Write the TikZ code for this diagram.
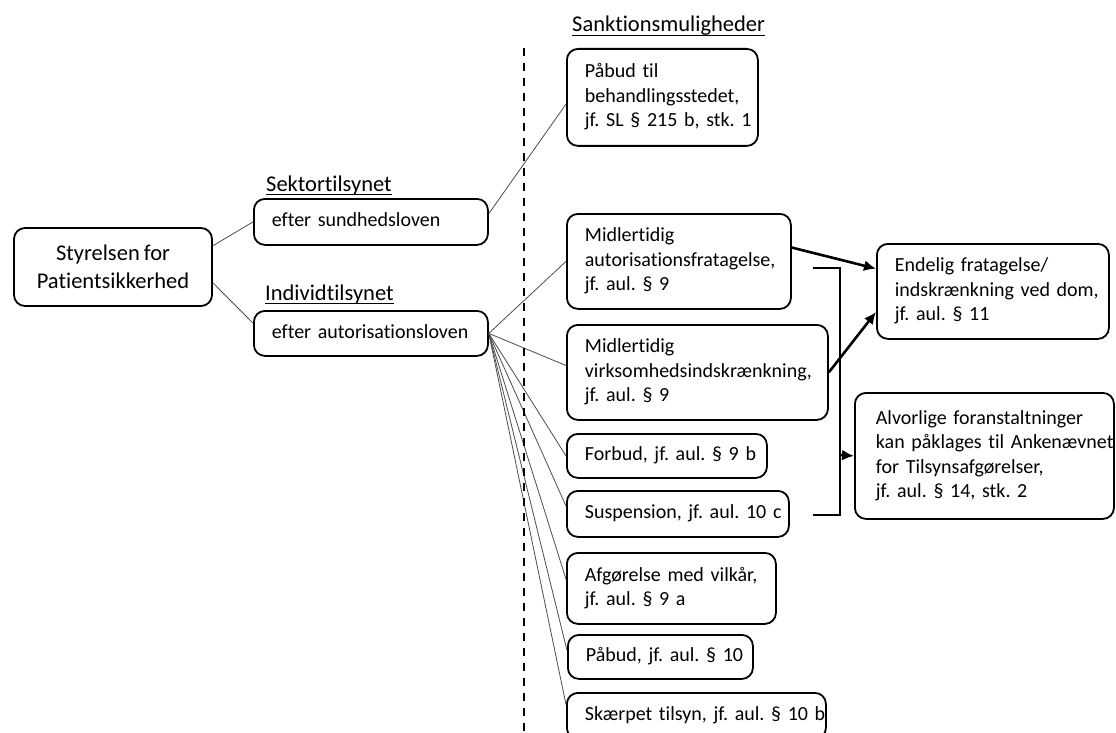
\documentclass[tikz,border=0pt]{standalone}
\usepackage{fontspec}
\setmainfont{Carlito}[Ligatures=NoCommon,WordSpace=0.8]
\usetikzlibrary{arrows.meta}
\newcommand{\lignes}[1]{\begin{tabular}{@{}l@{}}#1\end{tabular}}
\begin{document}
\frenchspacing
\begin{tikzpicture}[x=1pt,y=-1pt]

% définition des styles
\tikzstyle{boite}=[draw,line width=1.8pt,rounded corners=11pt,anchor=north west,inner xsep=18pt,inner ysep=0pt,font=\fontsize{20}{24.5}\selectfont]
\tikzstyle{titre}=[anchor=base west,inner sep=0pt,font=\fontsize{22.5}{27}\selectfont]
\tikzstyle{souligne}=[line width=1.4pt]
\tikzstyle{trait}=[-,line width=0.8pt,black!70]
\tikzstyle{pointille}=[line width=1.8pt,dash pattern=on 8pt off 7pt]
\tikzstyle{fleche}=[-{Latex[length=12pt,width=11pt]},line width=2.6pt]

% cadre
\clip (0,0) rectangle (1116,733);
\useasboundingbox (0,0) rectangle (1116,733);

% les boites de gauche
\node [draw,line width=1.8pt,rounded corners=11pt,align=center,minimum width=198pt,minimum height=78pt,font=\fontsize{22.5}{28}\selectfont] (styr) at (113,267) {Styrelsen for\\Patientsikkerhed};
\node [titre] (sekt) at (266,191) {Sektortilsynet};
\node [boite,text width=198pt,minimum height=46pt] (sund) at (253,198) {\lignes{efter sundhedsloven}};
\node [titre] (indiv) at (265,300) {Individtilsynet};
\node [boite,text width=198pt,minimum height=45pt] (autor) at (253,310) {\lignes{efter autorisationsloven}};

% les sanctions
\node [titre] (sank) at (572,32) {Sanktionsmuligheder};
\node [boite,text width=155pt,minimum height=97pt] (pab1) at (566,48) {\lignes{Påbud til\\behandlingsstedet,\\jf. SL § 215 b, stk. 1}};
\node [boite,text width=188pt,minimum height=95pt] (mia) at (566,213) {\lignes{Midlertidig\\autorisationsfratagelse,\\jf. aul. § 9}};
\node [boite,text width=225pt,minimum height=95pt] (miv) at (566,324) {\lignes{Midlertidig\\virksomhedsindskrænkning,\\jf. aul. § 9}};
\node [boite,text width=164pt,minimum height=44pt] (forb) at (566,433) {\lignes{Forbud, jf. aul. § 9 b}};
\node [boite,text width=186pt,minimum height=46pt] (susp) at (566,490) {\lignes{Suspension, jf. aul. 10 c}};
\node [boite,text width=173pt,minimum height=71pt] (afg) at (566,552) {\lignes{Afgørelse med vilkår,\\jf. aul. § 9 a}};
\node [boite,text width=149pt,minimum height=44pt] (pab2) at (567,634) {\lignes{Påbud, jf. aul. § 10}};
\node [boite,text width=223pt,minimum height=46pt] (skp) at (566,692) {\lignes{Skærpet tilsyn, jf. aul. § 10 b}};

% les boites de droite
\node [boite,text width=196pt,minimum height=95pt] (end) at (876,243) {\lignes{Endelig fratagelse/\\indskrænkning ved dom,\\jf. aul. § 11}};
\node [boite,inner xsep=21pt,text width=217pt,minimum height=126pt] (alv) at (854,392) {\lignes{Alvorlige foranstaltninger\\kan påklages til Ankenævnet\\for Tilsynsafgørelser,\\jf. aul. § 14, stk. 2}};

% soulignements
\draw[souligne] ([yshift=-3.5pt]sekt.base west) -- ([yshift=-3.5pt]sekt.base east);
\draw[souligne] ([yshift=-3.5pt]indiv.base west) -- ([yshift=-3.5pt]indiv.base east);
\draw[souligne] ([yshift=-3.5pt]sank.base west) -- ([yshift=-3.5pt]sank.base east);

% les traits
\draw[trait] (styr.12) -- (sund.west);
\draw[trait] (styr.-9) -- (autor.175);
\draw[trait] (sund.4) -- (pab1.184);
\draw[trait] (autor.east) -- (mia.west);
\draw[trait] (autor.east) -- (miv.177);
\draw[trait] (autor.east) -- (forb.west);
\draw[trait] (autor.east) -- (susp.176);
\draw[trait] (autor.east) -- (afg.175);
\draw[trait] (autor.east) -- (pab2.176);
\draw[trait] (autor.east) -- (skp.175);

% pointillés
\coordinate (p1) at (524,48);
\coordinate (p2) at (524,740);
\draw[pointille] (p1) -- (p2);

% les flèches
\draw[fleche] (mia.7) -- (end.169);
\draw[fleche] (miv.east) -- (end.190);
\coordinate (b1) at (813,268);
\coordinate (b2) at (840,268);
\coordinate (b3) at (840,515);
\coordinate (b4) at (813,515);
\coordinate (b5) at (840,455);
\draw[line width=2.6pt] (b1) -- (b2) -- (b3) -- (b4);
\draw[fleche] (b5) -- (alv.west);

\end{tikzpicture}
\end{document}
